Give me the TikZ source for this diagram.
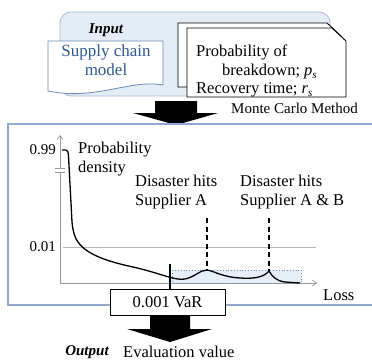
\documentclass[tikz,border=0pt]{standalone}
\usepackage{fontspec}
\setmainfont{Liberation Serif}
\usetikzlibrary{calc,arrows.meta}

\definecolor{panelfill}{HTML}{E4ECF6}
\definecolor{panelline}{HTML}{A8BCD8}
\definecolor{docline}{HTML}{6A88B4}
\definecolor{doctext}{HTML}{2F5A92}
\definecolor{frameline}{HTML}{92AACD}
\definecolor{bandfill}{HTML}{E6EEF8}
\definecolor{bandline}{HTML}{7090C0}
\definecolor{axisgray}{HTML}{9A9A9A}

% italic symbol with a lowered italic index, in the text font
\newcommand{\idxsym}[2]{\textit{#1}\raisebox{-0.35ex}{\fontsize{11}{11}\selectfont\textit{#2}}}

\tikzset{
  txt/.style={inner sep=0pt, font=\fontsize{16.5}{19}\selectfont, align=left},
  smalltxt/.style={inner sep=0pt, font=\fontsize{15}{18}\selectfont},
  headtxt/.style={inner sep=0pt, font=\fontsize{15}{18}\selectfont\bfseries\itshape},
  sheet/.style={draw=black, line width=0.9pt, fill=white},
  axisline/.style={draw=axisgray, line width=0.7pt},
  fatarrow/.style={fill=black},
  dropline/.style={line width=1.8pt, dash pattern=on 5pt off 3.5pt},
}

\begin{document}
\begin{tikzpicture}[x=1pt, y=-1pt]
\useasboundingbox (0,0) rectangle (372,361);

% input panel
\node[draw=panelline, fill=panelfill, rounded corners=11pt, line width=0.8pt,
      minimum width=270pt, minimum height=84pt, inner sep=0pt] (panel) at (195,54) {};
\node[headtxt] (inputlbl) at (106,30) {Input};

% supply chain document
\draw[draw=docline, fill=white, line width=0.8pt]
  (48,41) -- (163,41) -- (163,85) .. controls (130,79) and (95,101) .. (48,91) -- cycle;
\node[txt, align=center, text=doctext, font=\fontsize{17}{19}\selectfont] (sc) at (106,60)
  {Supply chain\\model};

% stacked parameter sheets
\draw[sheet] (178,23) -- (327,23) -- (341,36) -- (341,87) -- (178,87) -- cycle;
\draw[sheet] (187,28) -- (332,28) -- (346,41) -- (346,97) -- (187,97) -- cycle;
\node[txt, anchor=west] (prob1) at (196,52) {Probability of};
\node[txt, anchor=west] (prob2) at (222,72) {breakdown; \idxsym{p}{s}};
\node[txt, anchor=west] (prob3) at (196,90) {Recovery time; \idxsym{r}{s}};

% simulation arrow
\coordinate (mctop) at (176,101);
\coordinate (mctip) at (176,125);
\fill[fatarrow] ($(mctop)+(-21,0)$) -- ($(mctop)+(21,0)$) -- ($(mctop)+(21,12)$)
  -- ($(mctop)+(42,12)$) -- (mctip) -- ($(mctop)+(-43,12)$) -- ($(mctop)+(-21,12)$) -- cycle;
\node[smalltxt, anchor=west] (mc) at (231,108) {Monte Carlo Method};

% result frame
\draw[draw=frameline, line width=1.1pt] (373,124) -- (8,124) -- (8,305) -- (373,305);

% axes
\coordinate (origin) at (60,283);
\coordinate (ytop) at (60,135);
\coordinate (xend) at (317,283);
\draw[axisline] (origin) -- (60,172);
\draw[axisline, -{Straight Barb[length=4pt,width=6pt]}] (60,168) -- (ytop);
\draw[axisline, -{Straight Barb[length=4pt,width=6pt]}] (origin) -- (xend);
\draw[axisline] (55,168) -- (65,168) (55,172) -- (65,172);
\draw[draw=axisgray!70, line width=0.6pt] (63,247) -- (316,247);
\node[smalltxt, anchor=east] (p99) at (56,150) {0.99};
\node[smalltxt, anchor=east] (p01) at (56,247) {0.01};
\node[txt, anchor=west] (ylab) at (78,159) {Probability\\density};
\node[txt, anchor=west] (lossl) at (323,295) {Loss};

% tail band beyond the VaR
\draw[draw=bandline, fill=bandfill, dotted, line width=0.8pt] (172,270) rectangle (301,283);

% disaster labels and markers
\node[txt, anchor=west] (hitA) at (135,192) {Disaster hits\\Supplier A};
\node[txt, anchor=west] (hitAB) at (240,192) {Disaster hits\\Supplier A \& B};
\coordinate (peakA) at (207,270);
\coordinate (peakAB) at (269,271);
\draw[dropline] (207,218) -- (peakA);
\draw[dropline] (269,218) -- (peakAB);

% loss density curve
\draw[line width=1.3pt, line join=round]
  (62,150) -- (66,150) .. controls (68,150) and (68,152) .. (68.5,156)
  -- (72,222) .. controls (73,232) and (75,238) .. (78,242)
  .. controls (85,252) and (100,260) .. (133,267)
  .. controls (160,273) and (175,281) .. (185,279)
  .. controls (195,277) and (200,270) .. (peakA)
  .. controls (214,271) and (222,277) .. (240,278)
  .. controls (255,279) and (264,277) .. (peakAB)
  .. controls (272,276) and (276,281) .. (285,282)
  -- (300,283);

% VaR marker and output
\node[draw=black, fill=white, line width=0.9pt, minimum width=115pt, minimum height=26pt,
      inner sep=0pt, font=\fontsize{16.5}{19}\selectfont] (var) at (167.5,302) {0.001 VaR};
\draw[line width=1.2pt] (170,264) -- (170,289);
\coordinate (outtop) at (170,315);
\coordinate (outtip) at (170,342);
\fill[fatarrow] ($(outtop)+(-20,0)$) -- ($(outtop)+(20,0)$) -- ($(outtop)+(20,14)$)
  -- ($(outtop)+(42,14)$) -- (outtip) -- ($(outtop)+(-43,14)$) -- ($(outtop)+(-20,14)$) -- cycle;
\node[headtxt] (outlbl) at (87,352) {Output};
\node[txt, anchor=west] (evalv) at (123,352) {Evaluation value};
\end{tikzpicture}
\end{document}
